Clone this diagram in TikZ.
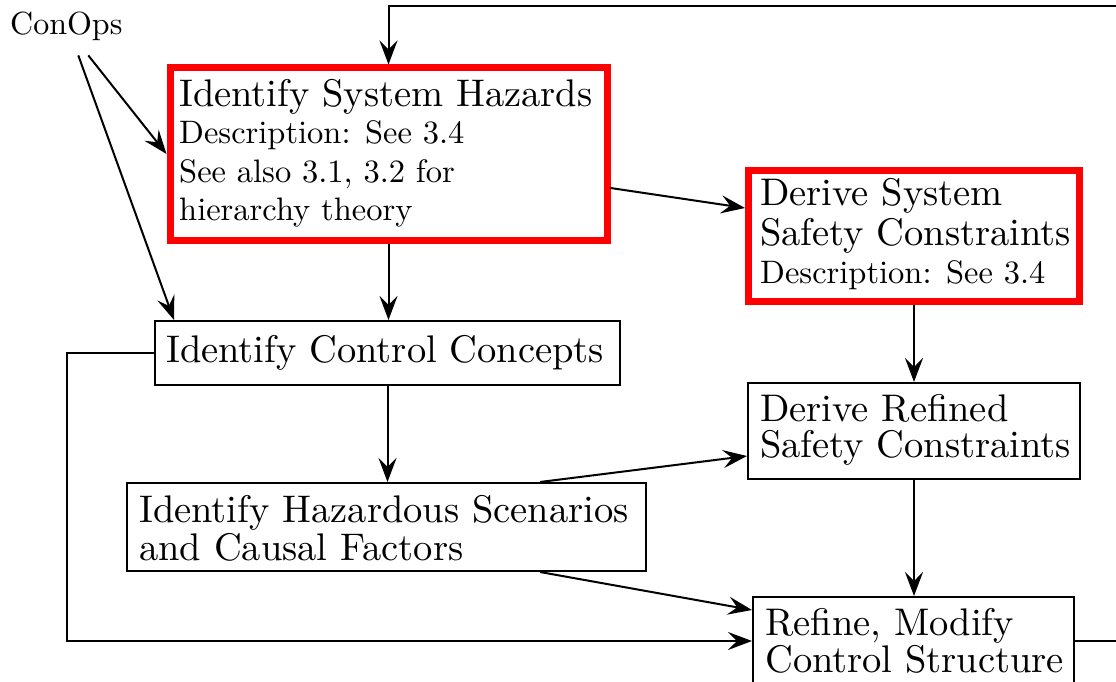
\documentclass[tikz,border=0pt]{standalone}
\usepackage{fontspec}
\setmainfont{lmroman10-regular.otf}
\usetikzlibrary{arrows.meta,calc}
\tikzset{
  plainbox/.style={draw=black, line width=2pt, inner sep=0pt},
  redbox/.style={draw=red, line width=7pt, inner sep=0pt},
  bigtext/.style={font=\fontsize{38.5}{37}\selectfont, anchor=base west, inner sep=0pt},
  smalltext/.style={font=\fontsize{32.5}{38}\selectfont, anchor=base west, inner sep=0pt},
  link/.style={line width=2pt, -{Stealth[length=24pt,width=18pt,inset=9pt]}},
}
\begin{document}
\begin{tikzpicture}[x=1pt, y=-1pt]
\useasboundingbox (0,0) rectangle (1116,682);
\clip (0,0) rectangle (1116,682);

% boxes
\node[redbox, minimum width=437pt, minimum height=172pt] (haz) at (388.5,154) {};
\node[redbox, minimum width=331pt, minimum height=131pt] (dsys) at (914,236) {};
\node[plainbox, minimum width=465pt, minimum height=64pt] (ctrl) at (387.5,353) {};
\node[plainbox, minimum width=519pt, minimum height=88pt] (hzs) at (386.5,527) {};
\node[plainbox, minimum width=332pt, minimum height=96pt] (rfd) at (914,431) {};
\node[plainbox, minimum width=321pt, minimum height=88pt] (rfn) at (913.5,641) {};

% texts
\node[font=\fontsize{32}{38}\selectfont, anchor=base west, inner sep=0pt] (conops) at (10,35) {ConOps};

\node[bigtext] (hazA) at (179,107) {Identify System Hazards};
\node[smalltext] (hazB) at (179,143) {Description: See 3.4};
\node[smalltext] (hazC) at (179,182) {See also 3.1, 3.2 for};
\node[smalltext] (hazD) at (179,220) {hierarchy theory};

\node[bigtext] (dsysA) at (760,205) {Derive System};
\node[bigtext] (dsysB) at (760,245) {Safety Constraints};
\node[smalltext] (dsysC) at (760,283) {Description: See 3.4};

\node[bigtext] (ctrlA) at (166,362) {Identify Control Concepts};

\node[bigtext] (hzsA) at (139,522) {Identify Hazardous Scenarios};
\node[bigtext] (hzsB) at (139,560) {and Causal Factors};

\node[bigtext] (rfdA) at (760,421) {Derive Refined};
\node[bigtext] (rfdB) at (760,457) {Safety Constraints};

\node[bigtext] (rfnA) at (765,635) {Refine, Modify};
\node[bigtext] (rfnB) at (765,672) {Control Structure};

% routing points
\coordinate (fbR) at (1125,6);
\coordinate (loopL) at (67,641);

% connectors
\draw[link] ([xshift=22pt,yshift=-14pt]conops.south) -- (haz.west);
\draw[link] ([xshift=12pt,yshift=-14pt]conops.south) -- ([xshift=20pt]ctrl.north west);
\draw[link] (rfn.east) -- (rfn.east -| fbR) -- (fbR) -- (fbR -| haz.north) -- (haz.north);
\draw[link] (haz.south) -- (haz.south |- ctrl.north);
\draw[link] ([yshift=-34pt]haz.east) -- ([yshift=28pt]dsys.west);
\draw[link] (dsys.south) -- (dsys.south |- rfd.north);
\draw[link] (ctrl.south) -- (ctrl.south |- hzs.north);
\draw[link] (ctrl.west) -| (loopL) -- (rfn.west);
\draw[link] ([xshift=153.5pt]hzs.north) -- ([yshift=-25pt]rfd.west);
\draw[link] ([xshift=153.5pt]hzs.south) -- ([yshift=31pt]rfn.west);
\draw[link] (rfd.south) -- (rfd.south |- rfn.north);
\end{tikzpicture}
\end{document}
